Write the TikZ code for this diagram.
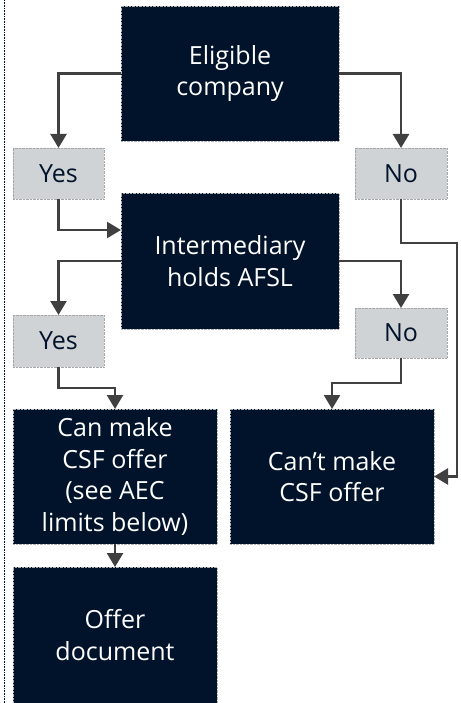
\documentclass[tikz,border=0pt]{standalone}
\usepackage{fontspec}
\setmainfont{Open Sans}
\usetikzlibrary{arrows.meta, positioning, calc}
\definecolor{navy}{RGB}{1,19,42}
\definecolor{lblgray}{RGB}{208,211,214}
\definecolor{flowgray}{RGB}{64,64,64}
\tikzset{
    stepbox/.style={
        draw=gray!60, densely dotted, fill=navy, text=white,
        align=center, inner sep=0pt, outer sep=0pt,
        font=\fontsize{25}{31.5}\selectfont
    },
    answer/.style={
        draw=gray!70, densely dotted, fill=lblgray, text=navy,
        align=center, inner sep=0pt, outer sep=0pt,
        font=\fontsize{25}{31.5}\selectfont
    },
    flow/.style={
        draw=flowgray, line width=2.5pt, solid,
        -{Triangle[length=14pt,width=16pt]}
    }
}

\begin{document}
\begin{tikzpicture}[x=1pt, y=-1pt]
    \useasboundingbox (0,0) rectangle (460,703);
    % left margin rule
    \draw[densely dotted, navy, line width=0.6pt] (4,0) -- (4,703);

    \node[stepbox, minimum width=218, minimum height=135] (elig) at (230,73.5) {Eligible\\company};
    \node[answer, minimum width=91, minimum height=51] (yes1) at (58.5,173.5) {Yes};
    \node[answer, minimum width=92, minimum height=51] (no1) at (401,173.5) {No};
    \node[stepbox, minimum width=218, minimum height=136] (inter) at (230,261) {Intermediary\\holds AFSL};
    \node[answer, minimum width=91, minimum height=52] (yes2) at (58.5,341) {Yes};
    \node[answer, minimum width=92, minimum height=50] (no2) at (401,333) {No};
    \node[stepbox, minimum width=204, minimum height=135] (can) at (115,476.5) {Can make\\CSF offer\\(see AEC\\limits below)};
    \node[stepbox, minimum width=204, minimum height=135] (cant) at (332,476.5) {Can’t make\\CSF offer};
    \node[stepbox, minimum width=204, minimum height=136] (offer) at (115,635) {Offer\\document};

    \coordinate (r1) at (457,243);

    \draw[flow] (elig.west) -| (yes1.north);
    \draw[flow] (elig.east) -| (no1.north);
    \draw[flow] (yes1.south) |- ([yshift=31pt]inter.west);
    \draw[flow] (no1.south) |- (r1) |- (cant.east);
    \draw[flow] (inter.west) -| (yes2.north);
    \draw[flow] (inter.east) -| (no2.north);
    \draw[flow] (yes2.south) -- ++(0,21) -| (can.north);
    \draw[flow] (no2.south) -- ++(0,25) -| (cant.north);
    \draw[flow] (can.south) -- (offer.north);
\end{tikzpicture}
\end{document}
